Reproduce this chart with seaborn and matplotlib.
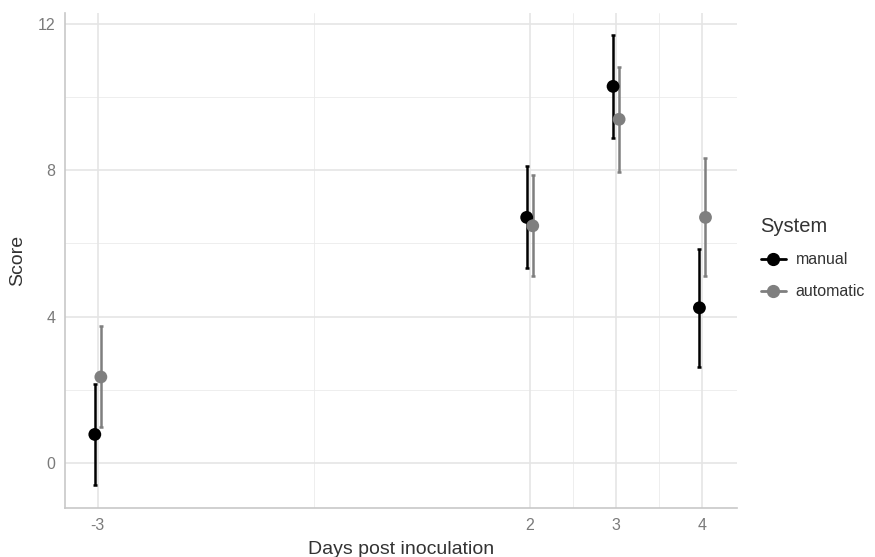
import matplotlib.pyplot as plt
import seaborn as sns
import pandas as pd
from matplotlib.lines import Line2D

# data
days = [-3, 2, 3, 4]
manual_mean = [0.78, 6.71, 10.29, 4.24]
manual_low = [-0.60, 5.32, 8.88, 2.62]
manual_high = [2.17, 8.11, 11.70, 5.85]
auto_mean = [2.35, 6.48, 9.39, 6.71]
auto_low = [0.97, 5.10, 7.96, 5.10]
auto_high = [3.74, 7.86, 10.83, 8.32]

systems = ["manual", "automatic"]
colors = {"manual": "#000000", "automatic": "#7f7f7f"}
dodge = {"manual": -0.035, "automatic": 0.035}

rows = []
for sys_name, m, lo, hi in [("manual", manual_mean, manual_low, manual_high),
                            ("automatic", auto_mean, auto_low, auto_high)]:
    for d, mv, l, h in zip(days, m, lo, hi):
        rows.append({"Day": d + dodge[sys_name], "Score": mv, "low": l, "high": h,
                     "System": sys_name})
df = pd.DataFrame(rows)

sns.set_style("white")
plt.rcParams["font.family"] = ["Liberation Sans", "DejaVu Sans"]

fig = plt.figure(figsize=(8.75, 5.57), dpi=100)
ax = fig.add_axes([0.0743, 0.088, 0.768, 0.889])

# grid: major and minor lines like theme_minimal
for x in [-0.5, 2.5, 3.5]:
    ax.axvline(x, color="#ebebeb", lw=0.6, zorder=0)
for y in [2, 6, 10]:
    ax.axhline(y, color="#ebebeb", lw=0.6, zorder=0)
for x in days:
    ax.axvline(x, color="#e5e5e5", lw=1.2, zorder=0)
for y in [0, 4, 8, 12]:
    ax.axhline(y, color="#e5e5e5", lw=1.2, zorder=0)

for sys_name in systems:
    sub = df[df["System"] == sys_name]
    ax.errorbar(sub["Day"], sub["Score"],
                yerr=[sub["Score"] - sub["low"], sub["high"] - sub["Score"]],
                fmt="none", ecolor=colors[sys_name], elinewidth=1.8,
                capsize=1.6, capthick=1.8, zorder=2)

sns.scatterplot(data=df, x="Day", y="Score", hue="System", hue_order=systems,
                palette=colors, s=85, linewidth=0, ax=ax, legend=False, zorder=3)

ax.set_xlim(-3.38, 4.4)
ax.set_ylim(-1.23, 12.3)
ax.set_xticks(days)
ax.set_xticklabels([str(d) for d in days])
ax.set_yticks([0, 4, 8, 12])
ax.tick_params(axis="both", length=0, labelsize=11.5, labelcolor="#7a7a7a", pad=7)

for side in ["top", "right"]:
    ax.spines[side].set_visible(False)
for side in ["left", "bottom"]:
    ax.spines[side].set_color("#c8c8c8")
    ax.spines[side].set_linewidth(1.2)

ax.set_xlabel("Days post inoculation", fontsize=14, color="#333333", labelpad=6)
ax.set_ylabel("Score", fontsize=14, color="#333333", labelpad=8)

handles = [Line2D([0], [0], color=colors[s], lw=2, marker="o", markersize=8.5)
           for s in systems]
leg = ax.legend(handles, systems, title="System", loc="center left",
                bbox_to_anchor=(1.035, 0.505), frameon=False, fontsize=11.5,
                title_fontsize=14.5, handlelength=1.6, labelspacing=1.05,
                handletextpad=0.6, borderpad=0, borderaxespad=0)
leg._legend_box.align = "left"
leg.get_title().set_color("#333333")
for t in leg.get_texts():
    t.set_color("#333333")

plt.savefig("out.png", dpi=100)
